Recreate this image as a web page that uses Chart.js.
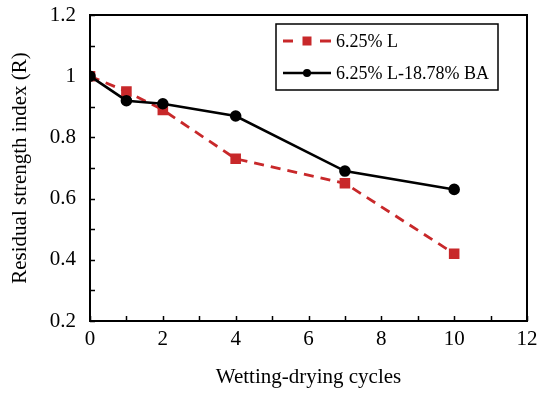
<!DOCTYPE html>
<html>
<head>
<meta charset="utf-8">
<script src="https://cdn.jsdelivr.net/npm/chart.js@4"></script>
<style>
html,body{margin:0;padding:0;background:#fff;}
#wrap{width:540px;height:393px;position:relative;}
</style>
</head>
<body>
<div id="wrap"><canvas id="c" width="540" height="393"></canvas></div>
<script>
const cycles = [0, 1, 2, 4, 7, 10];
const seriesL = [1.00, 0.95, 0.89, 0.73, 0.65, 0.42];
const seriesLBA = [1.00, 0.92, 0.91, 0.87, 0.69, 0.63];
const seriesNames = ['6.25% L', '6.25% L-18.78% BA'];
const xTitle = 'Wetting-drying cycles';
const yTitle = 'Residual strength index (R)';

const RED = '#c8282a';
const FONT = "'Liberation Serif', 'Times New Roman', serif";

const toPts = (xs, ys) => xs.map((x, i) => ({x: x, y: ys[i]}));

const innerTicks = {
  id: 'innerTicks',
  afterDraw(chart) {
    const ctx = chart.ctx, a = chart.chartArea;
    const xs = chart.scales.x, ys = chart.scales.y;
    ctx.save();
    ctx.strokeStyle = '#000';
    ctx.lineWidth = 1.5;
    ctx.beginPath();
    xs.ticks.forEach(t => {
      const px = Math.round(xs.getPixelForValue(t.value)) + 0.5;
      ctx.moveTo(px, a.bottom); ctx.lineTo(px, a.bottom - 5);
    });
    ys.ticks.forEach(t => {
      const py = Math.round(ys.getPixelForValue(t.value)) + 0.5;
      ctx.moveTo(a.left, py); ctx.lineTo(a.left + 5, py);
    });
    ctx.stroke();
    ctx.lineWidth = 2;
    ctx.strokeRect(a.left, a.top, a.right - a.left, a.bottom - a.top);
    ctx.restore();
  }
};

const boxLegend = {
  id: 'boxLegend',
  afterDraw(chart) {
    const ctx = chart.ctx;
    const bx = 276, by = 24, bw = 222, bh = 66;
    ctx.save();
    ctx.fillStyle = '#fff';
    ctx.fillRect(bx, by, bw, bh);
    ctx.strokeStyle = '#000';
    ctx.lineWidth = 1.5;
    ctx.strokeRect(bx, by, bw, bh);
    const sets = chart.data.datasets;
    const rows = [by + 17, by + 49];
    sets.forEach((ds, i) => {
      const y = rows[i];
      const x0 = bx + 7, x1 = bx + 55;
      ctx.strokeStyle = ds.borderColor;
      ctx.lineWidth = ds.borderWidth;
      ctx.beginPath();
      if (ds.borderDash) {
        ctx.moveTo(x0, y); ctx.lineTo(x0 + 10, y);
        ctx.moveTo(x1 - 11, y); ctx.lineTo(x1, y);
      } else {
        ctx.moveTo(x0, y); ctx.lineTo(x1, y);
      }
      ctx.stroke();
      ctx.fillStyle = ds.pointBackgroundColor;
      const cx = (x0 + x1) / 2;
      if (ds.pointStyle === 'rect') {
        ctx.fillRect(cx - 4.5, y - 4.5, 9, 9);
      } else {
        ctx.beginPath(); ctx.arc(cx, y, 4, 0, Math.PI * 2); ctx.fill();
      }
      ctx.fillStyle = '#000';
      ctx.font = '18px ' + FONT;
      ctx.textBaseline = 'middle';
      ctx.fillText(ds.label, bx + 60, y + 1);
    });
    ctx.restore();
  }
};

new Chart(document.getElementById('c'), {
  type: 'line',
  data: {
    datasets: [
      {
        label: seriesNames[0],
        data: toPts(cycles, seriesL),
        borderColor: RED,
        backgroundColor: RED,
        pointBackgroundColor: RED,
        pointBorderColor: RED,
        pointStyle: 'rect',
        pointRadius: 5.5,
        borderWidth: 2.8,
        borderDash: [10, 7],
        tension: 0,
        order: 2
      },
      {
        label: seriesNames[1],
        data: toPts(cycles, seriesLBA),
        borderColor: '#000',
        backgroundColor: '#000',
        pointBackgroundColor: '#000',
        pointBorderColor: '#000',
        pointStyle: 'circle',
        pointRadius: 4.5,
        borderWidth: 2.6,
        tension: 0,
        order: 1
      }
    ]
  },
  options: {
    responsive: false,
    animation: false,
    layout: {padding: {top: 15, right: 13, left: 0, bottom: 0}},
    plugins: {legend: {display: false}, tooltip: {enabled: false}},
    scales: {
      x: {
        type: 'linear', min: 0, max: 12,
        ticks: {
          stepSize: 1,
          autoSkip: false,
          maxRotation: 0,
          padding: 6,
          color: '#000',
          font: {family: FONT, size: 21},
          callback: v => (v % 2 === 0 ? String(v) : '')
        },
        grid: {display: false, drawTicks: false},
        border: {display: false},
        title: {display: true, text: xTitle, color: '#000', font: {family: FONT, size: 21}, padding: {top: 10, bottom: 3}},
        afterFit: s => { s.height = 72; s.paddingLeft = 0; s.paddingRight = 0; }
      },
      y: {
        min: 0.2, max: 1.2,
        ticks: {
          stepSize: 0.1,
          autoSkip: false,
          padding: 14,
          color: '#000',
          font: {family: FONT, size: 21},
          callback: v => {
            const k = Math.round(v * 10);
            if (k % 2 !== 0) return '';
            return k === 10 ? '1' : (k / 10).toFixed(1);
          }
        },
        grid: {display: false, drawTicks: false},
        border: {display: false},
        title: {display: true, text: yTitle, color: '#000', font: {family: FONT, size: 21}, padding: {top: 8, bottom: 0}},
        afterFit: s => { s.width = 90; s.paddingTop = 0; s.paddingBottom = 0; }
      }
    }
  },
  plugins: [innerTicks, boxLegend]
});
</script>
</body>
</html>
